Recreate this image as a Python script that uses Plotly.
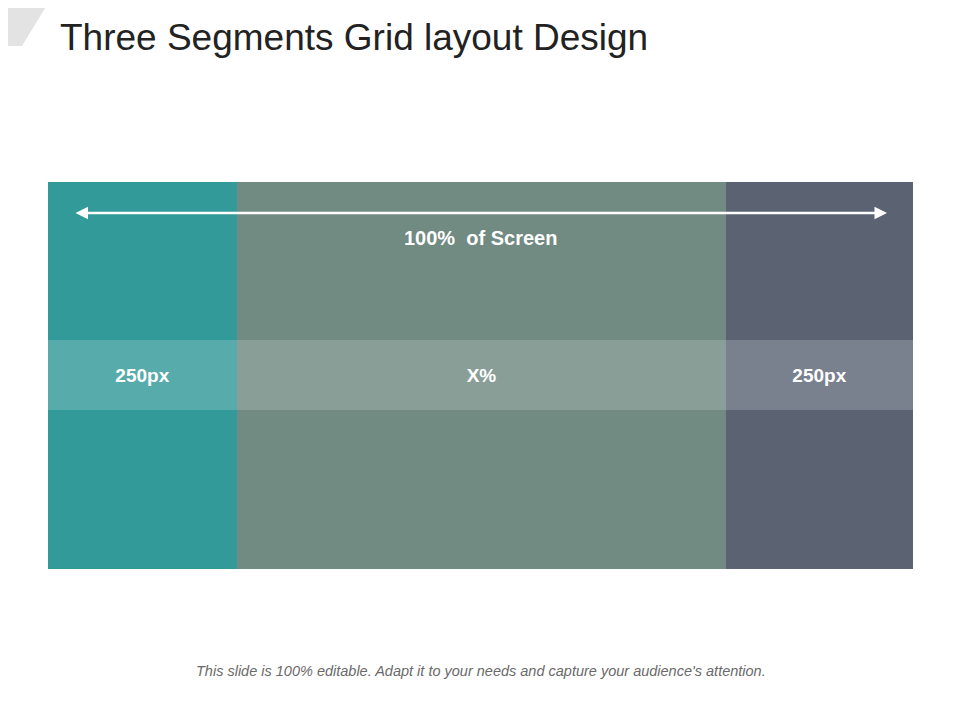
import plotly.graph_objects as go

# segment data
segment_labels = ["250px", "X%", "250px"]
segment_widths = [189, 489, 187]
segment_colors = ["#339a9a", "#718a82", "#5b6373"]
band_colors = ["#57abab", "#8a9e98", "#7a818e"]
title_text = "Three Segments Grid layout Design"
span_text = "100%  of Screen"
footer_text = "This slide is 100% editable. Adapt it to your needs and capture your audience's attention."

left, top, bottom = 48, 182, 569
band_top, band_bottom = 340, 410

lefts = [left + sum(segment_widths[:i]) for i in range(len(segment_widths))]
centers = [l + w / 2 for l, w in zip(lefts, segment_widths)]

fig = go.Figure()
fig.add_trace(go.Bar(x=centers, y=[bottom - top] * 3, base=top, width=segment_widths,
                     marker=dict(color=segment_colors, line=dict(width=0)), hoverinfo="skip"))
fig.add_trace(go.Bar(x=centers, y=[band_bottom - band_top] * 3, base=band_top, width=segment_widths,
                     marker=dict(color=band_colors, line=dict(width=0)),
                     text=["<b>" + s + "</b>" for s in segment_labels],
                     textposition="inside", insidetextanchor="middle",
                     textfont=dict(family="Arial, Liberation Sans", size=19, color="white"),
                     hoverinfo="skip"))

# corner decoration
fig.add_shape(type="path", path="M0,0 L50,0 L22,46 L0,46 Z", fillcolor="#e3e3e3", line_width=0)

# double arrow
right = left + sum(segment_widths)
fig.add_annotation(x=right - 26, y=213, ax=left + 26, ay=213, xref="x", yref="y", axref="x", ayref="y",
                   showarrow=True, arrowhead=2, arrowside="end+start", arrowwidth=2.5,
                   arrowsize=1, arrowcolor="white", text="")
fig.add_annotation(x=(left + right) / 2, y=238, text="<b>" + span_text + "</b>", showarrow=False,
                   font=dict(family="Arial, Liberation Sans", size=20, color="white"))

fig.add_annotation(x=58, y=37, text=title_text, showarrow=False, xanchor="left",
                   font=dict(family="Arial, Liberation Sans", size=37, color="#222222"))
fig.add_annotation(x=481, y=671, text="<i>" + footer_text + "</i>", showarrow=False,
                   font=dict(family="Arial, Liberation Sans", size=14.5, color="#6a6a6a"))

fig.update_layout(width=960, height=720, margin=dict(l=0, r=0, t=0, b=0),
                  plot_bgcolor="white", paper_bgcolor="white", showlegend=False,
                  barmode="overlay", bargap=0,
                  xaxis=dict(range=[8, 968], visible=False, fixedrange=True),
                  yaxis=dict(range=[728, 8], visible=False, fixedrange=True))
fig.write_html("out.html")
